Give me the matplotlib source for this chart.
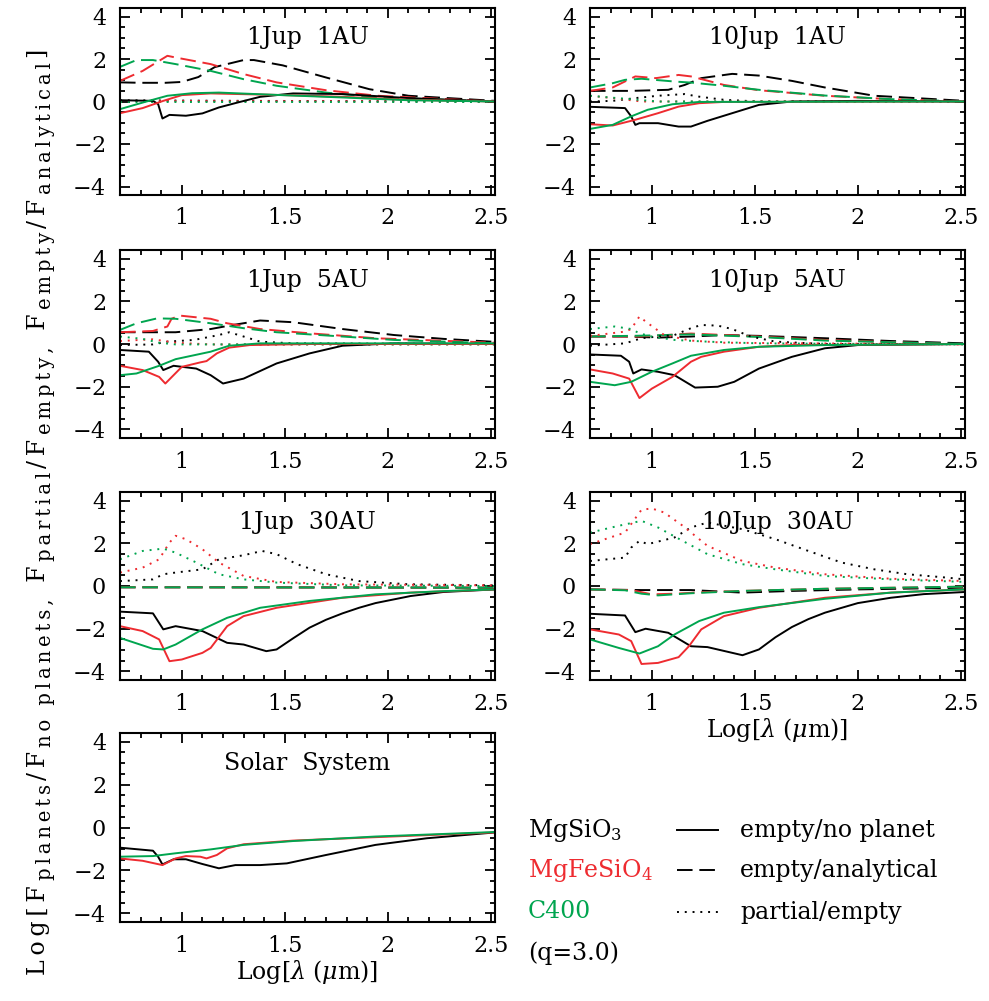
import numpy as np
import matplotlib
matplotlib.use("Agg")
import matplotlib.pyplot as plt
from matplotlib.ticker import MultipleLocator, FixedLocator, FuncFormatter
from matplotlib.transforms import IdentityTransform

plt.rcParams['font.family'] = ['DejaVu Serif']
plt.rcParams['mathtext.fontset'] = 'dejavuserif'
plt.rcParams['axes.formatter.use_mathtext'] = True

# Log[lambda] vs Log[flux ratio], read per curve as (x, y) pairs.
# keys: material -> line style ('-' empty/no planet, '--' empty/analytical, ':' partial/empty)
jup1_au1 = {
    'MgSiO3': {
        '-': [(0.70, 0.06), (0.86, 0.03), (0.885, -0.12), (0.906, -0.80), (0.94, -0.63), (1.02, -0.67),
              (1.10, -0.56), (1.18, -0.28), (1.27, -0.05), (1.38, 0.22), (1.54, 0.38), (1.78, 0.35),
              (2.10, 0.16), (2.52, 0.0)],
        '--': [(0.70, 0.90), (0.80, 0.88), (0.92, 0.88), (1.00, 0.92), (1.08, 1.15), (1.16, 1.62),
               (1.30, 1.95), (1.35, 1.95), (1.49, 1.70), (1.70, 1.13), (1.91, 0.58), (2.10, 0.27),
               (2.52, 0.03)],
        ':': [(0.70, 0.06), (0.86, 0.05), (1.30, 0.03), (2.52, 0.0)],
    },
    'MgFeSiO4': {
        '-': [(0.70, -0.55), (0.81, -0.31), (0.91, 0.03), (1.00, 0.30), (1.14, 0.38), (1.46, 0.31),
              (1.78, 0.22), (2.10, 0.08), (2.52, 0.0)],
        '--': [(0.70, 0.97), (0.81, 1.44), (0.93, 2.15), (0.97, 2.07), (1.14, 1.76), (1.30, 1.29),
               (1.46, 0.90), (1.70, 0.53), (1.95, 0.27), (2.52, 0.0)],
        ':': [(0.70, 0.02), (2.52, 0.0)],
    },
    'C400': {
        '-': [(0.70, -0.36), (0.81, -0.05), (0.93, 0.27), (1.05, 0.39), (1.18, 0.42), (1.46, 0.31),
              (1.78, 0.19), (2.10, 0.06), (2.52, 0.0)],
        '--': [(0.70, 1.63), (0.78, 1.95), (0.86, 1.95), (0.97, 1.76), (1.14, 1.44), (1.30, 1.05),
               (1.46, 0.74), (1.70, 0.42), (1.95, 0.19), (2.52, 0.0)],
        ':': [(0.70, -0.01), (2.52, -0.01)],
    },
}

jup10_au1 = {
    'MgSiO3': {
        '-': [(0.70, -0.25), (0.87, -0.31), (0.90, -0.70), (0.92, -1.10), (0.94, -1.02), (1.03, -1.02),
              (1.13, -1.18), (1.19, -1.18), (1.27, -0.91), (1.39, -0.55), (1.52, -0.16), (1.68, 0.0),
              (2.0, 0.03), (2.52, 0.0)],
        '--': [(0.70, 0.50), (0.90, 0.50), (1.08, 0.55), (1.16, 0.78), (1.24, 1.10), (1.39, 1.30),
               (1.52, 1.22), (1.68, 0.97), (1.84, 0.66), (2.08, 0.27), (2.52, 0.03)],
        ':': [(0.70, 0.0), (0.81, 0.03), (0.92, 0.16), (1.03, 0.27), (1.16, 0.35), (1.22, 0.24),
              (1.35, 0.08), (1.52, 0.0), (2.52, 0.0)],
    },
    'MgFeSiO4': {
        '-': [(0.70, -1.07), (0.81, -1.13), (0.92, -0.86), (1.03, -0.55), (1.13, -0.24), (1.23, -0.08),
              (1.35, -0.02), (2.52, 0.0)],
        '--': [(0.70, 0.50), (0.81, 0.66), (0.92, 1.18), (1.02, 1.10), (1.13, 1.25), (1.19, 1.18),
               (1.35, 0.78), (1.52, 0.53), (1.84, 0.27), (2.16, 0.11), (2.52, 0.0)],
        ':': [(0.70, 0.27), (0.81, 0.16), (0.95, 0.0), (2.52, 0.0)],
    },
    'C400': {
        '-': [(0.70, -1.29), (0.81, -1.10), (0.90, -0.70), (0.98, -0.39), (1.10, -0.13), (1.23, -0.02),
              (2.52, 0.0)],
        '--': [(0.70, 0.66), (0.81, 0.86), (0.87, 1.02), (0.95, 1.07), (1.11, 0.94), (1.19, 0.89),
               (1.35, 0.74), (1.52, 0.55), (1.84, 0.28), (2.16, 0.11), (2.52, 0.0)],
        ':': [(0.70, 0.27), (0.87, 0.13), (1.03, 0.0), (2.52, 0.0)],
    },
}

jup1_au5 = {
    'MgSiO3': {
        '-': [(0.70, -0.28), (0.84, -0.36), (0.885, -0.83), (0.91, -1.22), (0.96, -1.02), (1.07, -1.15),
              (1.14, -1.46), (1.20, -1.85), (1.30, -1.62), (1.46, -0.91), (1.62, -0.44), (1.78, -0.08),
              (2.03, 0.03), (2.52, 0.0)],
        '--': [(0.70, 0.55), (0.97, 0.55), (1.14, 0.70), (1.23, 0.86), (1.38, 1.10), (1.54, 1.02),
               (1.78, 0.70), (2.03, 0.42), (2.27, 0.24), (2.52, 0.10)],
        ':': [(0.70, -0.05), (0.86, -0.02), (0.93, 0.11), (1.06, 0.19), (1.18, 0.42), (1.23, 0.55),
              (1.30, 0.35), (1.38, 0.11), (1.54, 0.03), (2.52, 0.0)],
    },
    'MgFeSiO4': {
        '-': [(0.70, -1.02), (0.81, -1.22), (0.89, -1.54), (0.92, -1.85), (0.96, -1.46), (1.00, -1.07),
              (1.09, -0.86), (1.12, -0.80), (1.17, -0.44), (1.23, -0.17), (1.33, -0.05), (1.62, 0.0),
              (2.52, 0.0)],
        '--': [(0.70, 0.55), (0.86, 0.61), (0.93, 0.82), (0.95, 1.18), (0.99, 1.33), (1.14, 1.18),
               (1.22, 0.97), (1.38, 0.70), (1.62, 0.50), (1.94, 0.27), (2.52, 0.06)],
        ':': [(0.70, 0.14), (0.86, 0.22), (0.97, 0.06), (1.14, -0.02), (2.52, -0.02)],
    },
    'C400': {
        '-': [(0.70, -1.46), (0.78, -1.38), (0.89, -1.02), (0.97, -0.71), (1.14, -0.36), (1.23, -0.08),
              (1.38, 0.03), (2.52, 0.03)],
        '--': [(0.70, 0.66), (0.78, 0.97), (0.88, 1.20), (0.97, 1.18), (1.14, 0.97), (1.30, 0.74),
               (1.46, 0.55), (1.78, 0.35), (2.03, 0.19), (2.52, 0.03)],
        ':': [(0.70, 0.35), (0.81, 0.24), (0.89, 0.06), (0.97, -0.02), (2.52, -0.02)],
    },
}

jup10_au5 = {
    'MgSiO3': {
        '-': [(0.70, -0.49), (0.85, -0.55), (0.89, -0.83), (0.91, -1.38), (0.95, -1.19), (1.03, -1.30),
              (1.11, -1.46), (1.21, -2.04), (1.32, -2.00), (1.40, -1.77), (1.52, -1.15), (1.68, -0.60),
              (1.84, -0.20), (2.0, -0.05), (2.52, 0.0)],
        '--': [(0.70, 0.35), (0.87, 0.35), (1.03, 0.30), (1.19, 0.35), (1.35, 0.42), (1.52, 0.38),
               (1.84, 0.27), (2.16, 0.14), (2.52, 0.03)],
        ':': [(0.70, -0.08), (0.87, 0.03), (0.95, 0.27), (1.03, 0.35), (1.11, 0.42), (1.19, 0.74),
              (1.24, 0.89), (1.32, 0.86), (1.39, 0.70), (1.48, 0.35), (1.60, 0.11), (1.84, 0.0),
              (2.52, 0.0)],
    },
    'MgFeSiO4': {
        '-': [(0.70, -1.19), (0.81, -1.38), (0.89, -1.62), (0.94, -2.53), (1.00, -2.09), (1.10, -1.54),
              (1.19, -0.83), (1.24, -0.60), (1.35, -0.36), (1.52, -0.13), (1.68, -0.05), (2.52, 0.0)],
        '--': [(0.70, 0.35), (0.95, 0.35), (1.19, 0.49), (1.52, 0.35), (1.84, 0.19), (2.52, -0.02)],
        ':': [(0.70, 0.38), (0.87, 0.58), (0.90, 0.70), (0.94, 1.29), (0.97, 1.05), (1.02, 0.70),
              (1.06, 0.42), (1.19, 0.16), (1.35, 0.06), (2.52, -0.02)],
    },
    'C400': {
        '-': [(0.70, -1.77), (0.82, -1.93), (0.90, -1.77), (1.00, -1.30), (1.10, -0.91), (1.19, -0.55),
              (1.35, -0.28), (1.52, -0.13), (1.84, -0.05), (2.52, 0.0)],
        '--': [(0.70, 0.35), (0.95, 0.39), (1.19, 0.45), (1.52, 0.33), (1.84, 0.16), (2.52, 0.0)],
        ':': [(0.70, 0.70), (0.82, 0.82), (0.90, 0.70), (0.94, 0.50), (1.00, 0.35), (1.11, 0.19),
              (1.27, 0.11), (1.52, 0.03), (2.52, -0.02)],
    },
}

jup1_au30 = {
    'MgSiO3': {
        '-': [(0.70, -1.20), (0.86, -1.28), (0.91, -2.03), (0.97, -1.88), (1.10, -2.11), (1.22, -2.66),
              (1.30, -2.74), (1.41, -3.05), (1.46, -2.97), (1.54, -2.45), (1.62, -1.95), (1.70, -1.58),
              (1.78, -1.28), (1.86, -1.02), (1.94, -0.80), (2.11, -0.47), (2.27, -0.28), (2.52, -0.16)],
        '--': [(0.70, -0.06), (1.30, -0.06), (2.52, -0.08)],
        ':': [(0.70, 0.23), (0.86, 0.31), (0.91, 0.55), (0.97, 0.63), (1.10, 0.78), (1.18, 1.25),
              (1.30, 1.44), (1.39, 1.64), (1.46, 1.49), (1.56, 1.02), (1.70, 0.55), (1.86, 0.23),
              (2.10, 0.08), (2.52, 0.03)],
    },
    'MgFeSiO4': {
        '-': [(0.70, -1.88), (0.81, -2.11), (0.89, -2.50), (0.94, -3.52), (1.00, -3.44), (1.10, -3.13),
              (1.14, -2.90), (1.22, -1.88), (1.30, -1.41), (1.46, -1.02), (1.78, -0.55), (2.11, -0.31),
              (2.52, -0.16)],
        '--': [(0.70, -0.06), (2.52, -0.08)],
        ':': [(0.70, 0.63), (0.81, 0.86), (0.89, 1.25), (0.94, 2.03), (0.97, 2.35), (1.02, 2.19),
              (1.10, 1.72), (1.18, 1.10), (1.30, 0.47), (1.46, 0.19), (1.78, 0.08), (2.52, 0.03)],
    },
    'C400': {
        '-': [(0.70, -2.43), (0.86, -2.94), (0.91, -2.97), (0.97, -2.74), (1.10, -2.03), (1.22, -1.49),
              (1.38, -1.02), (1.62, -0.70), (1.94, -0.39), (2.27, -0.24), (2.52, -0.16)],
        '--': [(0.70, -0.06), (2.52, -0.08)],
        ':': [(0.70, 1.25), (0.81, 1.64), (0.91, 1.75), (0.97, 1.56), (1.07, 1.10), (1.18, 0.55),
              (1.30, 0.31), (1.46, 0.16), (1.78, 0.03), (2.52, 0.0)],
    },
}

jup10_au30 = {
    'MgSiO3': {
        '-': [(0.70, -1.30), (0.87, -1.38), (0.92, -2.16), (0.97, -2.00), (1.08, -2.19), (1.19, -2.82),
              (1.27, -2.86), (1.44, -3.24), (1.52, -2.97), (1.60, -2.40), (1.68, -1.92), (1.76, -1.55),
              (1.84, -1.25), (2.00, -0.80), (2.16, -0.55), (2.32, -0.38), (2.52, -0.28)],
        '--': [(0.70, -0.16), (0.95, -0.19), (1.19, -0.19), (1.44, -0.31), (1.68, -0.23), (2.0, -0.16),
               (2.52, -0.08)],
        ':': [(0.70, 1.17), (0.87, 1.33), (0.90, 1.80), (0.94, 2.11), (0.98, 1.96), (1.11, 2.27),
              (1.19, 2.74), (1.27, 2.97), (1.44, 2.66), (1.60, 2.19), (1.76, 1.64), (1.92, 1.10),
              (2.08, 0.78), (2.24, 0.55), (2.40, 0.42), (2.52, 0.31)],
    },
    'MgFeSiO4': {
        '-': [(0.70, -2.03), (0.84, -2.27), (0.90, -2.58), (0.95, -3.65), (1.03, -3.60), (1.13, -3.33),
              (1.18, -2.82), (1.24, -2.03), (1.35, -1.41), (1.52, -1.02), (1.84, -0.55), (2.16, -0.31),
              (2.52, -0.16)],
        '--': [(0.70, -0.16), (0.90, -0.19), (1.00, -0.39), (1.11, -0.36), (1.27, -0.28), (1.44, -0.23),
               (1.84, -0.13), (2.52, -0.03)],
        ':': [(0.70, 1.96), (0.87, 2.50), (0.95, 3.57), (1.00, 3.63), (1.06, 3.44), (1.15, 2.82),
              (1.27, 1.88), (1.44, 1.17), (1.60, 0.86), (1.84, 0.55), (2.16, 0.34), (2.52, 0.23)],
    },
    'C400': {
        '-': [(0.70, -2.50), (0.84, -2.90), (0.94, -3.16), (1.03, -2.82), (1.11, -2.27), (1.23, -1.64),
              (1.35, -1.25), (1.52, -0.99), (1.84, -0.60), (2.16, -0.31), (2.52, -0.16)],
        '--': [(0.70, -0.16), (0.87, -0.20), (0.95, -0.36), (1.03, -0.44), (1.19, -0.34), (1.44, -0.23),
               (1.84, -0.13), (2.52, -0.03)],
        ':': [(0.70, 2.50), (0.84, 2.82), (0.95, 3.05), (1.03, 2.74), (1.15, 2.11), (1.27, 1.49),
              (1.44, 1.02), (1.60, 0.78), (1.84, 0.47), (2.16, 0.31), (2.52, 0.19)],
    },
}

solar_system = {
    'MgSiO3': {
        '-': [(0.70, -0.94), (0.86, -1.08), (0.885, -1.36), (0.906, -1.72), (0.96, -1.48), (1.02, -1.48),
              (1.10, -1.70), (1.18, -1.90), (1.26, -1.75), (1.38, -1.75), (1.51, -1.67), (1.70, -1.28),
              (1.94, -0.81), (2.19, -0.50), (2.52, -0.23)],
    },
    'MgFeSiO4': {
        '-': [(0.70, -1.44), (0.81, -1.55), (0.906, -1.75), (0.97, -1.44), (1.02, -1.33), (1.09, -1.36),
              (1.12, -1.44), (1.17, -1.28), (1.22, -0.97), (1.30, -0.78), (1.54, -0.61), (1.94, -0.45),
              (2.52, -0.23)],
    },
    'C400': {
        '-': [(0.70, -1.36), (0.86, -1.33), (0.97, -1.20), (1.14, -1.02), (1.30, -0.81), (1.54, -0.63),
              (1.94, -0.42), (2.52, -0.21)],
    },
}

panel_titles = ['1Jup  1AU', '10Jup  1AU', '1Jup  5AU', '10Jup  5AU',
                '1Jup  30AU', '10Jup  30AU', 'Solar  System']
panel_data = [jup1_au1, jup10_au1, jup1_au5, jup10_au5, jup1_au30, jup10_au30, solar_system]

materials = ['MgSiO3', 'MgFeSiO4', 'C400']
material_labels = ['MgSiO$_3$', 'MgFeSiO$_4$', 'C400']
style_labels = ['empty/no planet', 'empty/analytical', 'partial/empty']

# y label pieces: (text, subscript?)
ylabel_parts = [('Log[F', False), ('planets', True), ('/F', False), ('no planets,', True),
                (' F', False), ('partial', True), ('/F', False), ('empty,', True),
                (' F', False), ('empty', True), ('/F', False), ('analytical', True), (']', False)]

colors = {'MgSiO3': 'black', 'MgFeSiO4': '#ee2b30', 'C400': '#00a54f'}
dash_styles = {'-': (None, None), '--': (8, 3.5), ':': (1, 3)}
LW = 1.4

W, H = 989, 1001
fig = plt.figure(figsize=(W / 100, H / 100), dpi=100)


def px_axes(x0, y0, x1, y1):
    return fig.add_axes([x0 / W, 1 - y1 / H, (x1 - x0) / W, (y1 - y0) / H])


cols = [(120, 495), (590, 965)]
rows = [(8, 195), (250, 438), (492, 680), (733, 922)]

axes = []
for i in range(7):
    r, c = divmod(i, 2)
    axes.append(px_axes(cols[c][0], rows[r][0], cols[c][1], rows[r][1]))


def tick_fmt(v, pos):
    if abs(v - round(v)) < 1e-9:
        v = int(round(v))
        return '$-$' + str(abs(v)) if v < 0 else str(v)
    return '%g' % v


for ax, title, data in zip(axes, panel_titles, panel_data):
    for style in ['--', ':', '-']:
        for m in materials:
            if style not in data[m]:
                continue
            pts = np.array(data[m][style])
            line, = ax.plot(pts[:, 0], pts[:, 1], color=colors[m], lw=LW)
            if style != '-':
                line.set_dashes(dash_styles[style])
    ax.set_xlim(0.7, 2.52)
    ax.set_ylim(-4.4, 4.4)
    ax.xaxis.set_major_locator(FixedLocator([1, 1.5, 2, 2.5]))
    ax.xaxis.set_minor_locator(MultipleLocator(0.1))
    ax.yaxis.set_major_locator(MultipleLocator(2))
    ax.yaxis.set_minor_locator(MultipleLocator(0.5))
    ax.xaxis.set_major_formatter(FuncFormatter(tick_fmt))
    ax.yaxis.set_major_formatter(FuncFormatter(tick_fmt))
    ax.tick_params(which='both', direction='in', top=True, right=True, width=1.3, labelsize=16)
    ax.tick_params(which='major', length=7.5)
    ax.tick_params(which='minor', length=3.8)
    ax.tick_params(axis='x', pad=9)
    ax.tick_params(axis='y', pad=10)
    for s in ax.spines.values():
        s.set_linewidth(1.5)
    ax.text(0.5, 0.84, title, transform=ax.transAxes, ha='center', va='center', fontsize=17)

xlab = r'Log[$\lambda$ ($\mu$m)]'
axes[6].set_xlabel(xlab, fontsize=17, labelpad=1)
axes[5].set_xlabel(xlab, fontsize=17, labelpad=1)

# shared y label, written piece by piece (letter-spaced, subscripts nearly full size);
# font sizes are scaled so the label runs from y=40 to y=975 px
renderer = fig.canvas.get_renderer()
main_fs, sub_fs = 17.0, 14.0
label_len = 935
pieces = []
for txt, sub in ylabel_parts:
    spaced = '\u2009'.join(txt) + '\u2009'
    t = fig.text(0, 0, spaced, rotation=90, rotation_mode='anchor', ha='left', va='baseline',
                 fontsize=sub_fs if sub else main_fs, transform=IdentityTransform())
    pieces.append((t, sub))
total = sum(t.get_window_extent(renderer).height for t, _ in pieces)
k = label_len / total
for t, sub in pieces:
    t.set_fontsize((sub_fs if sub else main_fs) * k)
x_main, x_sub = 45, 51
y_pos = H - 975
for t, sub in pieces:
    t.set_position((x_sub if sub else x_main, y_pos))
    y_pos += t.get_window_extent(renderer).height

# legend block in the empty lower-right slot
leg = px_axes(510, 790, 989, 1001)
leg.set_xlim(0, 479)
leg.set_ylim(211, 0)
leg.axis('off')
row_y = [40, 80, 122, 163]
for yy, lab, m in zip(row_y, material_labels, materials):
    leg.text(18, yy, lab, color=colors[m], fontsize=17, ha='left', va='center')
leg.text(18, row_y[3], '(q=3.0)', fontsize=17, ha='left', va='center')
for yy, lab, style in zip(row_y, style_labels, ['-', '--', ':']):
    line, = leg.plot([167, 208], [yy, yy], color='black', lw=LW)
    if style != '-':
        line.set_dashes(dash_styles[style])
    leg.text(230, yy, lab, fontsize=17, ha='left', va='center')

fig.savefig('out.png', dpi=100)
